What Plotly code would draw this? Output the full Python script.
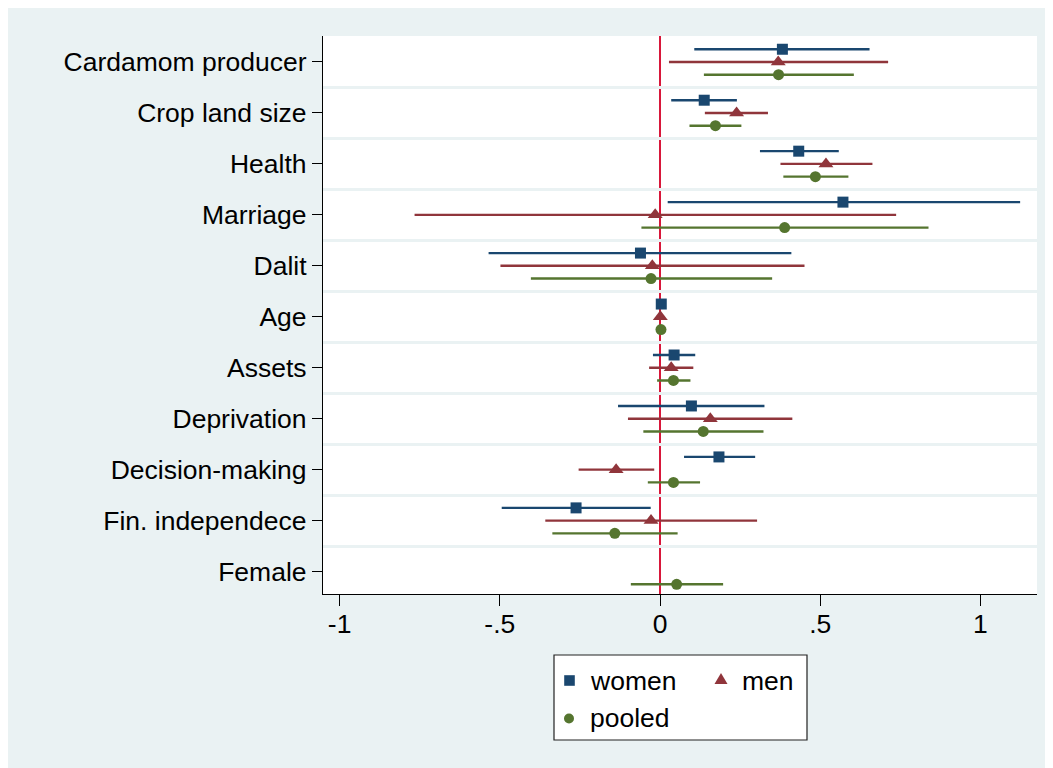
import numpy as np
import plotly.graph_objects as go

# ---------------- data ----------------
categories = ["Cardamom producer", "Crop land size", "Health", "Marriage", "Dalit",
              "Age", "Assets", "Deprivation", "Decision-making", "Fin. independece", "Female"]

women_coef = [0.382, 0.138, 0.433, 0.571, -0.061, 0.004, 0.044, 0.098, 0.184, -0.262, None]
women_lo   = [0.107, 0.035, 0.312, 0.024, -0.535, 0.001, -0.022, -0.131, 0.075, -0.494, None]
women_hi   = [0.654, 0.240, 0.558, 1.124, 0.410, 0.007, 0.110, 0.326, 0.297, -0.029, None]

men_coef = [0.369, 0.239, 0.518, -0.015, -0.024, 0.001, 0.035, 0.157, -0.137, -0.028, None]
men_lo   = [0.028, 0.140, 0.376, -0.766, -0.498, -0.002, -0.034, -0.100, -0.254, -0.358, None]
men_hi   = [0.712, 0.337, 0.663, 0.737, 0.451, 0.004, 0.104, 0.413, -0.018, 0.303, None]

pooled_coef = [0.370, 0.173, 0.485, 0.389, -0.028, 0.003, 0.042, 0.135, 0.042, -0.141, 0.052]
pooled_lo   = [0.137, 0.092, 0.385, -0.058, -0.403, 0.001, -0.009, -0.052, -0.038, -0.336, -0.091]
pooled_hi   = [0.605, 0.254, 0.588, 0.838, 0.350, 0.005, 0.095, 0.323, 0.125, 0.055, 0.197]

x_tickvals = [-1, -0.5, 0, 0.5, 1]
x_ticktext = ["-1", "-.5", "0", ".5", "1"]

# ---------------- styling ----------------
W, H = 1053, 768
OFF = 8                                # page body margin
PL, PR, PT, PB = 323, 1037, 36, 594    # plot area in page pixels
BG = "#EAF2F3"
NAVY, MAROON, GREEN = "#1A476F", "#90353B", "#55752F"
RED = "#D8173A"
FONT = "Liberation Sans, Arial, Helvetica, sans-serif"
FS = 26.5


def px_x(px):
    return (px - PL) / (PR - PL)


def px_y(py):
    return (PB - py) / (PB - PT)


series = [
    ("women", women_coef, women_lo, women_hi, NAVY, "square", 11, -0.25),
    ("men", men_coef, men_lo, men_hi, MAROON, "triangle-up", 13, 0.0),
    ("pooled", pooled_coef, pooled_lo, pooled_hi, GREEN, "circle", 11, 0.25),
]

fig = go.Figure()
for name, coef, lo, hi, color, sym, size, off in series:
    ys, xs, ep, em = [], [], [], []
    for i, (c, l, h) in enumerate(zip(coef, lo, hi)):
        if c is None:
            continue
        ys.append(i + 1 + off)
        xs.append(c)
        ep.append(h - c)
        em.append(c - l)
    fig.add_trace(go.Scatter(
        x=xs, y=ys, mode="markers", name=name, showlegend=False,
        marker=dict(symbol=sym, size=size, color=color, line=dict(width=0)),
        error_x=dict(type="data", array=ep, arrayminus=em, symmetric=False,
                     color=color, thickness=2.4, width=0),
        cliponaxis=False,
    ))

# vertical reference line at 0
fig.add_shape(type="line", xref="x", yref="paper", x0=0, x1=0, y0=0, y1=1,
              line=dict(color=RED, width=2), layer="below")

shapes = []
# legend box
shapes.append(dict(type="rect", xref="paper", yref="paper", x0=px_x(554), x1=px_x(807),
                   y0=px_y(740), y1=px_y(655), fillcolor="white",
                   line=dict(color="#222222", width=1.2), layer="above"))
# legend markers
sq = 5.3
shapes.append(dict(type="rect", xref="paper", yref="paper", xsizemode="pixel", ysizemode="pixel",
                   xanchor=px_x(569.5), yanchor=px_y(680.5), x0=-sq, x1=sq, y0=-sq, y1=sq,
                   fillcolor=NAVY, line=dict(width=0), layer="above"))
shapes.append(dict(type="path", xref="paper", yref="paper", xsizemode="pixel", ysizemode="pixel",
                   xanchor=px_x(721), yanchor=px_y(679),
                   path="M -6.5 -5 L 6.5 -5 L 0 6 Z",
                   fillcolor=MAROON, line=dict(width=0), layer="above"))
shapes.append(dict(type="circle", xref="paper", yref="paper", xsizemode="pixel", ysizemode="pixel",
                   xanchor=px_x(569), yanchor=px_y(718.5), x0=-5, x1=5, y0=-5, y1=5,
                   fillcolor=GREEN, line=dict(width=0), layer="above"))
for s in shapes:
    fig.add_shape(**s)

annotations = []
for txt, xpx, ypx in [("women", 588, 681), ("men", 740, 681), ("pooled", 588, 718)]:
    annotations.append(dict(text=txt, xref="paper", yref="paper", x=px_x(xpx), y=px_y(ypx),
                            xanchor="left", yanchor="middle", showarrow=False,
                            font=dict(family=FONT, size=FS, color="black")))

fig.update_layout(
    width=W, height=H,
    margin=dict(l=PL - OFF, r=W - (PR - OFF), t=PT - OFF, b=H - (PB - OFF), pad=0),
    paper_bgcolor=BG, plot_bgcolor="white",
    font=dict(family=FONT, size=FS, color="black"),
    showlegend=False,
    annotations=annotations,
    xaxis=dict(
        range=[(PL - 660) / 320.4, (PR - 660) / 320.4],
        tickvals=x_tickvals, ticktext=x_ticktext,
        showgrid=False, zeroline=False,
        showline=True, linecolor="black", linewidth=1.3,
        ticks="outside", ticklen=11, tickwidth=1.3, tickcolor="black",
        ticklabelstandoff=-5,
        tickfont=dict(family=FONT, size=FS, color="black"),
    ),
    yaxis=dict(
        range=[11.44, 0.49],
        tickvals=list(range(1, len(categories) + 1)), ticktext=categories,
        showgrid=False, zeroline=False,
        showline=True, linecolor="black", linewidth=1.3,
        ticks="outside", ticklen=10, tickwidth=1.3, tickcolor="black",
        ticklabelstandoff=0,
        tickfont=dict(family=FONT, size=FS, color="black"),
        minor=dict(tick0=0.5, dtick=1, showgrid=True, gridcolor=BG, gridwidth=2.5, ticklen=0),
    ),
)

fig.write_html("out.html")
